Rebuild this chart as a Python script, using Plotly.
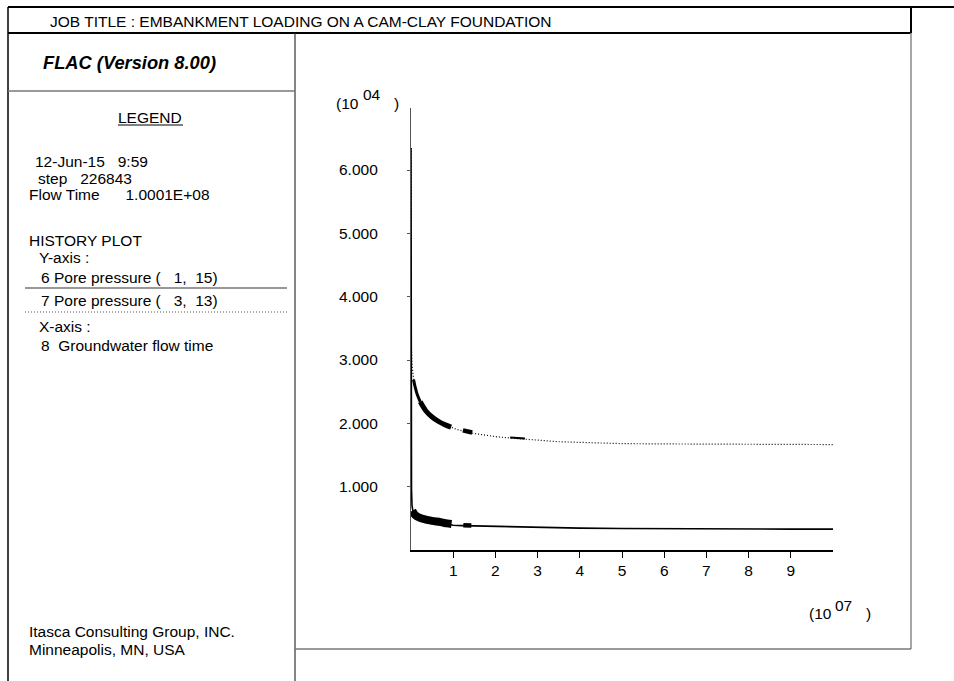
import plotly.graph_objects as go

W, H = 954, 681

# ---------------- data (time in 1e7 s, pressure in 1e4) ----------------
pp6_t = [0, 0.002, 0.006, 0.012, 0.024, 0.05, 0.1, 0.2, 0.35, 0.5, 0.7, 0.85, 1.0, 1.2, 1.5,
         2.0, 2.5, 3.0, 4.0, 5.0, 6.0, 7.0, 8.0, 9.0, 10.0]
pp6_v = [6.35, 3.2, 1.6, 0.95, 0.70, 0.60, 0.54, 0.51, 0.48, 0.46, 0.44, 0.42, 0.39, 0.385, 0.38,
         0.37, 0.36, 0.355, 0.345, 0.34, 0.335, 0.33, 0.33, 0.33, 0.33]

pp7_t = [0, 0.002, 0.008, 0.024, 0.045, 0.07, 0.15, 0.25, 0.35, 0.5, 0.65, 0.8, 0.95, 1.1, 1.3,
         1.5, 1.8, 2.0, 2.5, 3.0, 3.5, 4.0, 4.5, 5.0, 6.0, 7.0, 8.0, 9.0, 10.0]
pp7_v = [6.35, 4.2, 3.25, 2.92, 2.76, 2.67, 2.45, 2.30, 2.20, 2.10, 2.03, 1.98, 1.94, 1.90, 1.87,
         1.84, 1.81, 1.79, 1.76, 1.73, 1.71, 1.70, 1.69, 1.68, 1.675, 1.67, 1.67, 1.665, 1.665]

# oscillation bands (visible thick noisy parts of the histories)
pp6_band_t = [0.03, 0.1, 0.2, 0.35, 0.5, 0.7, 0.85, 0.96]
pp6_band_v = [0.62, 0.55, 0.51, 0.48, 0.46, 0.44, 0.42, 0.41]
pp6_blob_t = [1.24, 1.43]
pp6_blob_v = [0.39, 0.385]

pp7_band_a_t = [0.06, 0.1, 0.15, 0.22]
pp7_band_a_v = [2.69, 2.57, 2.45, 2.34]
pp7_band_b_t = [0.22, 0.35, 0.5, 0.65, 0.8, 0.95]
pp7_band_b_v = [2.34, 2.20, 2.10, 2.03, 1.98, 1.94]
pp7_blob_t = [1.23, 1.45]
pp7_blob_v = [1.89, 1.855]
pp7_blob2_t = [2.35, 2.7]
pp7_blob2_v = [1.775, 1.762]

x_ticks = [1, 2, 3, 4, 5, 6, 7, 8, 9]
x_ticklabels = ["1", "2", "3", "4", "5", "6", "7", "8", "9"]
y_ticks = [1, 2, 3, 4, 5, 6]
y_ticklabels = ["1.000", "2.000", "3.000", "4.000", "5.000", "6.000"]

FONT = "Liberation Sans, Arial, Helvetica, sans-serif"
FS = 15.5

fig = go.Figure()

# main histories
fig.add_trace(go.Scatter(x=pp6_t, y=pp6_v, mode="lines",
                         line=dict(color="black", width=1.6), showlegend=False))
fig.add_trace(go.Scatter(x=pp7_t, y=pp7_v, mode="lines",
                         line=dict(color="black", width=1.2, dash="1px,2px"), showlegend=False))
# noisy bands
fig.add_trace(go.Scatter(x=pp6_band_t, y=pp6_band_v, mode="lines",
                         line=dict(color="black", width=8, shape="spline"), showlegend=False))
fig.add_trace(go.Scatter(x=pp6_blob_t, y=pp6_blob_v, mode="lines",
                         line=dict(color="black", width=4.5), showlegend=False))
fig.add_trace(go.Scatter(x=pp7_band_a_t, y=pp7_band_a_v, mode="lines",
                         line=dict(color="black", width=3, shape="spline"), showlegend=False))
fig.add_trace(go.Scatter(x=pp7_band_b_t, y=pp7_band_b_v, mode="lines",
                         line=dict(color="black", width=5, shape="spline"), showlegend=False))
fig.add_trace(go.Scatter(x=pp7_blob_t, y=pp7_blob_v, mode="lines",
                         line=dict(color="black", width=4.5), showlegend=False))
fig.add_trace(go.Scatter(x=pp7_blob2_t, y=pp7_blob2_v, mode="lines",
                         line=dict(color="black", width=2), showlegend=False))

X0, X1, Y0, Y1 = 411, 833, 108, 550

fig.update_layout(
    width=W, height=H,
    margin=dict(l=0, r=0, t=0, b=0),
    paper_bgcolor="white", plot_bgcolor="white",
    font=dict(family=FONT, size=FS, color="black"),
    xaxis=dict(domain=[X0 / W, X1 / W], range=[0, 10.0], showgrid=False, zeroline=False,
               showline=True, linecolor="black", linewidth=1.5,
               ticks="outside", ticklen=6, tickwidth=1, tickcolor="black",
               tickvals=x_ticks, ticktext=x_ticklabels, tickfont=dict(size=FS)),
    yaxis=dict(domain=[1 - Y1 / H, 1 - Y0 / H], range=[0, 6.98], showgrid=False, zeroline=False,
               showline=True, linecolor="#555555", linewidth=1.2,
               ticks="outside", ticklen=3, tickwidth=1, tickcolor="#555555",
               tickvals=y_ticks, ticktext=y_ticklabels, tickfont=dict(size=FS),
               ticklabelstandoff=26),
)


def px(x):
    return x / W


def py(y):
    return 1 - y / H


def hline(x0, x1, y, color="black", width=1, dash=None):
    fig.add_shape(type="line", xref="paper", yref="paper", x0=px(x0), x1=px(x1), y0=py(y), y1=py(y),
                  line=dict(color=color, width=width, dash=dash))


def vline(x, y0, y1, color="black", width=1):
    fig.add_shape(type="line", xref="paper", yref="paper", x0=px(x), x1=px(x), y0=py(y0), y1=py(y1),
                  line=dict(color=color, width=width))


# frame
hline(8, 954, 7, "black", 2)
hline(8, 911, 33, "black", 2)
vline(911, 7, 33, "black", 2)
vline(911, 33, 649, "#888888", 1.5)
vline(8, 7, 681, "black", 1.5)
vline(295, 33, 681, "#333333", 1.2)
hline(8, 295, 91, "#777777", 1.5)
hline(295, 911, 649, "#777777", 1.5)

# legend decoration lines
hline(118, 183, 125, "black", 1)
hline(25, 287, 288, "#333333", 1.2)
hline(25, 287, 312, "#555555", 1, "1px,2px")


def text(x, y, s, size=FS, anchor="left", **kw):
    fig.add_annotation(xref="paper", yref="paper", x=px(x), y=py(y), text=s, showarrow=False,
                       xanchor=anchor, yanchor="middle", font=dict(family=FONT, size=size, color="black"),
                       **kw)


text(48, 21, "JOB TITLE : EMBANKMENT LOADING ON A CAM-CLAY FOUNDATION")
text(41, 62, "<b><i>FLAC (Version 8.00)</i></b>", 18.3)
text(150, 117, "LEGEND", FS, "center")
text(33, 162, "12-Jun-15   9:59")
text(36, 178, "step   226843")
text(27, 194, "Flow Time      1.0001E+08")
text(27, 240, "HISTORY PLOT")
text(37, 257, "Y-axis :")
text(39, 277, "6 Pore pressure (   1,  15)")
text(39, 300, "7 Pore pressure (   3,  13)")
text(37, 327, "X-axis :")
text(39, 346, "8  Groundwater flow time")
text(27, 631, "Itasca Consulting Group, INC.")
text(27, 649, "Minneapolis, MN, USA")

# axis multipliers
text(334, 104, "(10")
text(361, 95, "04")
text(392, 104, ")")
text(807, 613, "(10")
text(833, 605, "07")
text(864, 613, ")")

fig.write_html("out.html")
